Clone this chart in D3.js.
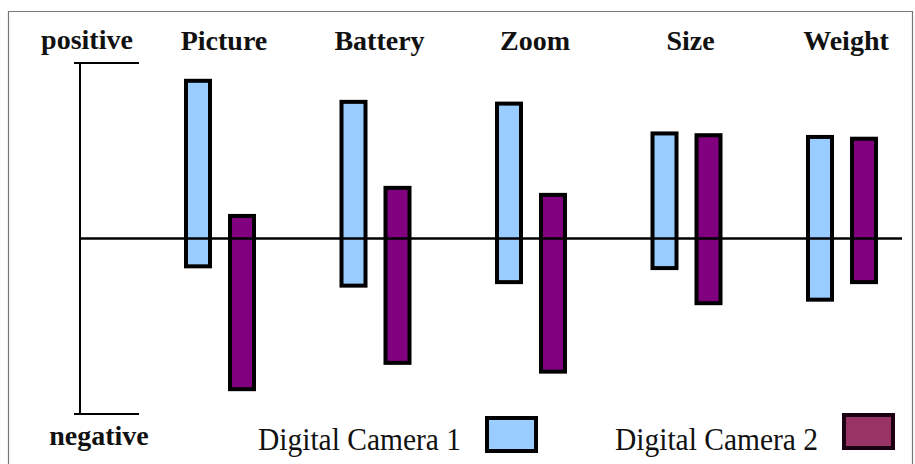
<!DOCTYPE html>
<html lang="en">
<head>
    <meta charset="utf-8">
    <script type="text/javascript" src="https://d3js.org/d3.v7.min.js"></script>
    <style>
        body { margin: 0; background: #fff; }
    </style>
</head>

<body>
    <script type="text/javascript">
        // SVG width and height
        let w = 915;
        let h = 464;

        // Data: opinion extent above (positive) and below (negative) the neutral line
        let features = ["Picture", "Battery", "Zoom", "Size", "Weight"];
        let cam1Pos = [9.1, 7.9, 7.8, 6.1, 5.9];
        let cam1Neg = [-1.7, -2.8, -2.6, -1.8, -3.6];
        let cam2Pos = [1.4, 3.0, 2.6, 6.0, 5.8];
        let cam2Neg = [-8.7, -7.2, -7.7, -3.8, -2.6];
        let seriesNames = ["Digital Camera 1", "Digital Camera 2"];

        let barFill = ["#99ccff", "#800080"];
        let legendFill = ["#99ccff", "#993366"];

        let svg = d3.select("body").append("svg")
                    .attr("width", w)
                    .attr("height", h);

        // Frame around the figure
        svg.append("path")
            .attr("d", "M8.5,470 V11.5 H912.5 V470")
            .attr("fill", "none")
            .attr("stroke", "#777")
            .attr("stroke-width", 1.2);

        // Scales
        let x = d3.scalePoint()
            .domain(features)
            .range([220, 842]);

        let y = d3.scaleLinear()
            .domain([-10, 10])
            .range([414, 63]);

        let barW = 28;
        let off = 22;
        let sw = 4;

        // Vertical positive/negative scale
        svg.append("line")
            .attr("x1", 80).attr("x2", 80)
            .attr("y1", y(10)).attr("y2", y(-10))
            .attr("stroke", "#000").attr("stroke-width", 2);
        svg.selectAll(".endtick")
            .data([10, -10])
            .join("line")
                .attr("class", "endtick")
                .attr("x1", 74).attr("x2", 139)
                .attr("y1", d => y(d)).attr("y2", d => y(d))
                .attr("stroke", "#000").attr("stroke-width", 2);

        // Bar records
        let bars = [];
        features.forEach((f, i) => {
            bars.push({ f: f, s: 0, top: cam1Pos[i], bot: cam1Neg[i] });
            bars.push({ f: f, s: 1, top: cam2Pos[i], bot: cam2Neg[i] });
        });

        svg.selectAll(".bar")
            .data(bars)
            .join("rect")
                .attr("class", "bar")
                .attr("x", d => x(d.f) + (d.s === 0 ? -off : off) - barW / 2 + sw / 2)
                .attr("y", d => y(d.top) + sw / 2)
                .attr("width", barW - sw)
                .attr("height", d => y(d.bot) - y(d.top) - sw)
                .attr("fill", d => barFill[d.s])
                .attr("stroke", "#000")
                .attr("stroke-width", sw);

        // Neutral line drawn over the bars
        svg.append("line")
            .attr("x1", 80).attr("x2", 902)
            .attr("y1", y(0)).attr("y2", y(0))
            .attr("stroke", "#000").attr("stroke-width", 2.5);

        // Feature labels
        svg.selectAll(".feat")
            .data(features)
            .join("text")
                .attr("class", "feat")
                .text(d => d)
                .attr("x", d => x(d) + 4)
                .attr("y", 50)
                .attr("text-anchor", "middle")
                .attr("font-family", "Liberation Serif, Times New Roman, serif")
                .attr("font-weight", "bold")
                .attr("font-size", "28px")
                .attr("fill", "#111");

        // positive / negative labels
        svg.append("text")
            .text("positive")
            .attr("x", 87).attr("y", 49)
            .attr("text-anchor", "middle")
            .attr("font-family", "Liberation Serif, Times New Roman, serif")
            .attr("font-weight", "bold")
            .attr("font-size", "28px")
            .attr("fill", "#111");
        svg.append("text")
            .text("negative")
            .attr("x", 99).attr("y", 445)
            .attr("text-anchor", "middle")
            .attr("font-family", "Liberation Serif, Times New Roman, serif")
            .attr("font-weight", "bold")
            .attr("font-size", "28px")
            .attr("fill", "#111");

        // Legend
        let legX = [258, 615];
        let swX = [485, 842];
        let leg = svg.selectAll(".leg")
            .data(seriesNames)
            .join("g")
                .attr("class", "leg");
        leg.append("text")
            .text(d => d)
            .attr("x", (d, i) => legX[i])
            .attr("y", 450)
            .attr("font-family", "Liberation Serif, Times New Roman, serif")
            .attr("font-size", "31px")
            .attr("textLength", 203)
            .attr("lengthAdjust", "spacingAndGlyphs")
            .attr("fill", "#111");
        leg.append("rect")
            .attr("x", (d, i) => swX[i] + 2)
            .attr("y", (d, i) => (i === 0 ? 416 : 413) + 2)
            .attr("width", 49)
            .attr("height", 33)
            .attr("fill", (d, i) => legendFill[i])
            .attr("stroke", (d, i) => i === 0 ? "#000" : "#1a0010")
            .attr("stroke-width", 4);
    </script>
</body>
</html>
